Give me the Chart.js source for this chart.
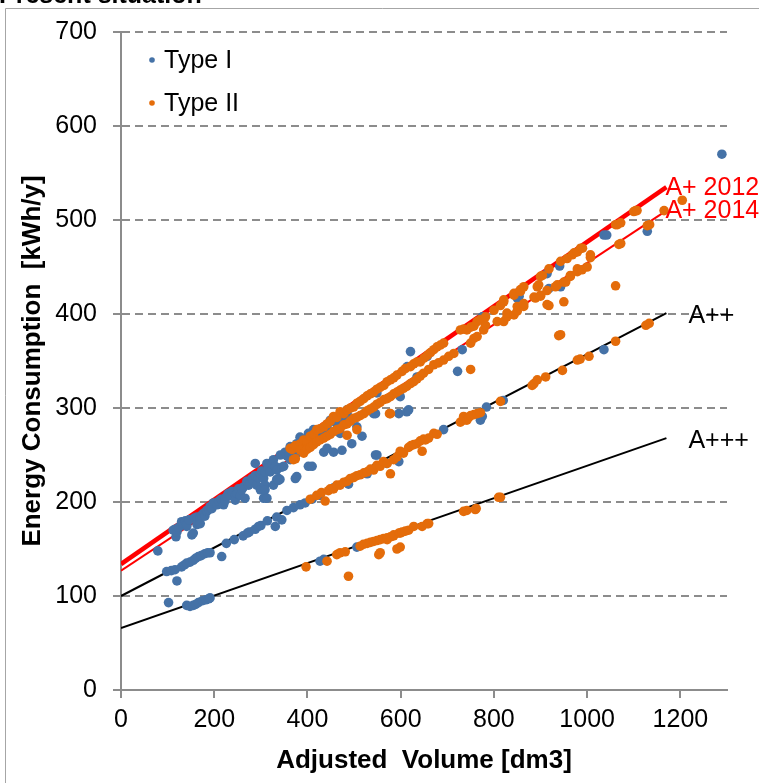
<!DOCTYPE html>
<html>
<head>
<meta charset="utf-8">
<script src="https://cdn.jsdelivr.net/npm/chart.js@4"></script>
<style>
  html, body { margin: 0; padding: 0; background: #ffffff; }
  #wrap { width: 759px; height: 783px; position: relative; }
</style>
</head>
<body>
<div id="wrap"><canvas id="chart" width="759" height="783"></canvas></div>
<script>
// ---- data ---------------------------------------------------------------
// Refrigerator models: [adjusted volume dm3, energy consumption kWh/y]
const typeIPoints = [
  [79,148],[102,93],[141,90],[148,89],[155,90],[160,91],[166,93],[175,95],[182,96],[188,97],[191,98],
  [427,137],[435,139],[506,152],
  [98,126],[108,127],[116,128],[120,116],[130,131],[136,133],[141,135],[148,136],[155,138],[160,140],
  [166,142],[172,143],[180,145],[186,146],[191,146],[216,142],[226,156],[243,160],[262,164],[271,167],
  [275,168],[288,171],[295,174],[300,175],[314,180],[331,174],[334,184],[345,181],[356,191],[370,194],
  [384,197],[395,199],[410,203],[427,207],[456,215],[488,219],[528,230],[546,250],[570,241],[596,243],
  [692,277],[771,287],[775,291],[784,301],[820,308],[1036,362],
  [112,170],[116,171],[118,163],[120,168],[124,173],[130,179],[134,177],[138,180],[141,174],[141,176],
  [146,181],[152,165],[155,167],[158,183],[163,181],[163,184],[163,176],[170,184],[170,177],[173,186],
  [177,188],[180,185],[184,190],[184,191],[188,192],[191,195],[195,193],[198,199],[202,199],[206,197],
  [210,201],[215,203],[220,197],[223,204],[223,201],[227,206],[230,209],[234,207],[238,211],[245,207],
  [245,202],[249,209],[252,214],[256,207],[259,213],[263,216],[266,204],[270,222],[274,218],[277,220],
  [281,225],[284,223],[288,241],[288,228],[291,218],[295,226],[299,230],[299,213],[302,233],[306,225],
  [306,204],[309,232],[309,218],[309,213],[313,241],[313,204],[316,236],[320,232],[324,240],[327,245],
  [327,218],[331,238],[334,234],[334,224],[338,225],[338,223],[341,224],[342,250],[345,237],[349,238],
  [352,253],[356,249],[360,251],[363,245],[363,259],[367,254],[370,258],[374,225],[377,252],[377,262],
  [377,227],[381,260],[384,269],[388,255],[392,266],[395,259],[399,262],[399,268],[402,273],[402,238],
  [406,264],[410,238],[413,273],[413,277],[420,270],[427,277],[435,253],[435,274],[442,280],[442,257],
  [449,287],[456,286],[456,253],[463,283],[470,289],[470,273],[474,255],[478,291],[485,294],[485,298],
  [495,262],[506,280],[517,270],[542,294],[546,294],[549,250],[549,316],[596,294],[599,312],[613,296],
  [617,298],[621,360],[614,344],[635,333],[657,355],[722,339],[732,362],[775,397],[850,417],[854,419],
  [914,443],[918,427],[939,430],[941,451],[943,429],[1036,484],[1042,484],[1129,488],[1289,570]
];

const typeIIPoints = [
  [363,257],[367,256],[374,260],[385,262],[392,266],[399,264],[406,270],[413,272],[420,277],[427,278],
  [435,280],[442,283],[449,286],[456,291],[463,290],[470,296],[478,294],[485,298],[492,300],[499,301],
  [506,305],[513,307],[521,310],[528,313],[535,315],[542,317],[549,320],[556,322],[564,324],[571,328],
  [578,330],[585,332],[592,335],[603,339],[610,342],[621,344],[628,347],[635,349],[642,349],[650,353],
  [657,356],[664,359],[671,362],[678,365],[685,367],[692,369],[728,383],[735,384],[742,383],[750,386],
  [757,387],[764,392],[771,394],[782,397],[800,404],[814,409],[821,413],[821,415],[843,420],[843,422],
  [857,424],[857,426],[864,429],[900,440],[904,441],[918,448],[943,456],[957,459],[968,463],[972,465],
  [979,466],[986,470],[990,470],[1061,495],[1065,495],[1072,497],[1100,509],[1104,510],[1107,510],
  [1165,510],[1204,521],
  [370,245],[374,246],[385,255],[392,252],[399,256],[406,258],[413,261],[420,264],[427,266],[435,268],
  [442,270],[449,272],[456,275],[463,277],[470,278],[478,282],[485,283],[492,286],[499,289],[506,290],
  [513,292],[521,294],[528,297],[535,299],[542,301],[549,304],[556,306],[564,309],[571,310],[578,312],
  [585,315],[592,317],[599,319],[606,321],[613,323],[621,326],[628,328],[635,331],[642,334],[649,337],
  [660,341],[671,346],[681,348],[692,351],[703,355],[714,358],[750,369],[757,374],[764,376],[778,383],
  [782,388],[807,392],[821,392],[828,397],[828,401],[843,399],[850,403],[850,408],[864,408],[864,411],
  [886,418],[889,417],[900,419],[900,420],[914,425],[932,429],[936,431],[950,434],[954,434],[964,440],
  [964,441],[979,445],[979,448],[989,447],[1000,450],[1007,460],[1007,463],[1068,474],[1072,475],
  [1129,494],[1134,495],
  [485,271],[506,277],[576,294],[578,294],[750,341],[893,429],[896,431],[918,409],[914,410],[950,413],
  [1061,430],[939,377],[943,378],
  [406,203],[420,207],[430,210],[438,201],[445,212],[449,214],[456,214],[463,218],[470,218],[478,221],
  [485,222],[492,225],[499,226],[506,228],[513,229],[521,231],[528,232],[535,235],[542,234],[549,239],
  [556,238],[563,243],[571,241],[578,230],[585,245],[592,248],[599,254],[606,252],[617,258],
  [622,260],[628,261],[635,262],[642,265],[646,254],[649,267],[653,266],[660,268],[671,273],[678,272],
  [728,285],[735,287],[735,291],[742,287],[746,290],[750,292],[757,293],[764,294],[771,295],[814,307],
  [882,324],[886,326],[893,330],[911,333],[947,340],[979,351],[985,352],[1004,355],[1061,371],[1126,388],
  [1133,390],
  [397,131],[442,137],[463,144],[470,146],[481,147],[488,121],[513,153],[520,155],[528,156],[535,157],
  [542,158],[549,159],[553,144],[556,146],[556,160],[563,161],[571,160],[571,162],[578,163],[585,164],
  [585,165],[592,150],[596,167],[599,152],[599,167],[603,168],[610,169],[617,170],[628,174],[646,174],
  [657,177],[660,177],[735,190],[742,191],[760,192],[762,193],[810,205],[814,205]
];

// Label class limit lines: start and end volume, limit at each end
const limitX = [0, 1170];
const limitAPlus2012 = [134, 535];
const limitAPlus2014 = [127, 510];
const limitA2Plus = [100, 401];
const limitA3Plus = [66, 268];

const seriesNames = ['Type I', 'Type II'];
const limitNames = ['A+ 2012', 'A+ 2014', 'A++', 'A+++'];

const xTicks = [0, 200, 400, 600, 800, 1000, 1200];
const yTicks = [0, 100, 200, 300, 400, 500, 600, 700];

// ---- styling ------------------------------------------------------------
const FONT = "'Liberation Sans', Arial, sans-serif";
const BLUE = '#4572A7';
const ORANGE = '#E46C0A';
const GRID = '#8c8c8c';

const toXY = pts => pts.map(p => ({ x: p[0], y: p[1] }));
const limitLine = values => limitX.map((x, i) => ({ x: x, y: values[i] }));

// text drawn beside the end of each limit line: offsets in px
const limitLabelStyle = [
  { color: '#FF0000', dx: -1, dy: 1 },
  { color: '#FF0000', dx: -1, dy: 1 },
  { color: '#000000', dx: 22, dy: 3 },
  { color: '#000000', dx: 22, dy: 3 }
];

const decorations = {
  id: 'decorations',
  beforeDraw(chart) {
    const ctx = chart.ctx;
    ctx.save();
    ctx.fillStyle = '#ffffff';
    ctx.fillRect(0, 0, chart.width, chart.height);
    // outer frame
    ctx.strokeStyle = '#a6a6a6';
    ctx.lineWidth = 1;
    ctx.beginPath();
    ctx.moveTo(5.5, chart.height);
    ctx.lineTo(5.5, 8.5);
    ctx.lineTo(chart.width, 8.5);
    ctx.stroke();
    // heading
    ctx.fillStyle = '#000000';
    ctx.font = 'bold 25px ' + FONT;
    ctx.textBaseline = 'alphabetic';
    ctx.textAlign = 'left';
    ctx.fillText('Present situation', -1, 3);
    ctx.restore();
  },
  afterDatasetsDraw(chart) {
    const ctx = chart.ctx;
    const xs = chart.scales.x, ys = chart.scales.y;
    ctx.save();
    ctx.font = '25px ' + FONT;
    ctx.textBaseline = 'middle';
    ctx.textAlign = 'left';
    limitNames.forEach((name, i) => {
      const ds = chart.data.datasets[2 + i];
      const end = ds.data[ds.data.length - 1];
      const st = limitLabelStyle[i];
      ctx.fillStyle = st.color;
      ctx.fillText(name, xs.getPixelForValue(end.x) + st.dx, ys.getPixelForValue(end.y) + st.dy);
    });
    // legend in the upper left of the plot
    const legendRows = [60, 103];
    seriesNames.forEach((name, i) => {
      const ds = chart.data.datasets[i];
      ctx.fillStyle = ds.backgroundColor;
      ctx.beginPath();
      ctx.arc(152, legendRows[i], 2.8, 0, Math.PI * 2);
      ctx.fill();
      ctx.fillStyle = '#000000';
      ctx.fillText(name, 164, legendRows[i] + 1);
    });
    ctx.restore();
  }
};

new Chart(document.getElementById('chart'), {
  type: 'scatter',
  data: {
    datasets: [
      { label: seriesNames[0], data: toXY(typeIPoints), backgroundColor: BLUE, borderColor: BLUE,
        pointRadius: 4.8, pointHoverRadius: 4.8, borderWidth: 0, order: 2 },
      { label: seriesNames[1], data: toXY(typeIIPoints), backgroundColor: ORANGE, borderColor: ORANGE,
        pointRadius: 4.8, pointHoverRadius: 4.8, borderWidth: 0, order: 1 },
      { label: limitNames[0], data: limitLine(limitAPlus2012), showLine: true, borderColor: '#FF0000',
        backgroundColor: '#FF0000', borderWidth: 4.5, pointRadius: 0, order: 6 },
      { label: limitNames[1], data: limitLine(limitAPlus2014), showLine: true, borderColor: '#FF0000',
        backgroundColor: '#FF0000', borderWidth: 2, pointRadius: 0, order: 5 },
      { label: limitNames[2], data: limitLine(limitA2Plus), showLine: true, borderColor: '#000000',
        backgroundColor: '#000000', borderWidth: 2, pointRadius: 0, order: 5 },
      { label: limitNames[3], data: limitLine(limitA3Plus), showLine: true, borderColor: '#000000',
        backgroundColor: '#000000', borderWidth: 2, pointRadius: 0, order: 5 }
    ]
  },
  options: {
    responsive: false,
    animation: false,
    devicePixelRatio: 1,
    events: [],
    layout: { padding: { left: 0, right: 32, top: 32, bottom: 0 } },
    plugins: { legend: { display: false }, tooltip: { enabled: false } },
    scales: {
      x: {
        type: 'linear', min: 0, max: 1300,
        afterBuildTicks: s => { s.ticks = xTicks.map(v => ({ value: v })); },
        afterFit: s => { s.height = 93; },
        ticks: { font: { family: FONT, size: 25 }, color: '#000000', padding: 7, maxRotation: 0,
                 callback: v => String(v) },
        grid: { drawOnChartArea: false, color: GRID, lineWidth: 2, tickLength: 8 },
        border: { color: GRID, width: 2 },
        title: { display: true, text: 'Adjusted  Volume [dm3]', color: '#000000',
                 font: { family: FONT, size: 26, weight: 'bold' }, padding: { top: 0, bottom: 7 } }
      },
      y: {
        type: 'linear', min: 0, max: 700,
        afterBuildTicks: s => { s.ticks = yTicks.map(v => ({ value: v })); },
        afterFit: s => { s.width = 121; },
        ticks: { font: { family: FONT, size: 25 }, color: '#000000', padding: 16, callback: v => String(v) },
        grid: { color: GRID, lineWidth: 2, tickLength: 8 },
        border: { color: GRID, width: 2, dash: [8, 5] },
        title: { display: true, text: 'Energy Consumption  [kWh/y]', color: '#000000',
                 font: { family: FONT, size: 26, weight: 'bold' }, padding: { top: 17, bottom: 0 } }
      }
    }
  },
  plugins: [decorations]
});
</script>
</body>
</html>
